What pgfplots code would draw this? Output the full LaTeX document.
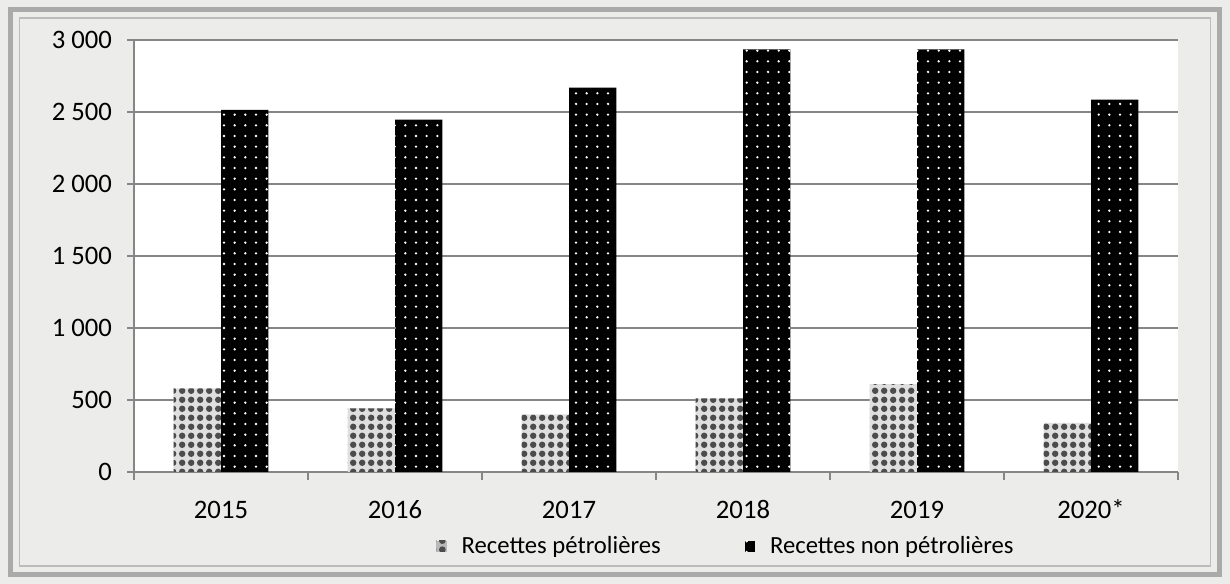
\documentclass[border=0pt]{standalone}
\usepackage{fontspec}
\setmainfont{Carlito}
\usepackage{pgfplots}
\pgfplotsset{compat=1.18}
\usetikzlibrary{patterns.meta}

\definecolor{frameg}{RGB}{160,160,160}
\definecolor{bgtex}{RGB}{236,236,234}
\definecolor{gridg}{RGB}{134,134,134}

\begin{document}
\begin{tikzpicture}
% background card: 1230x584 px at 0.75pt per px; axis box starts at px (134,472)
\fill[bgtex] (-100.5pt,-84pt) rectangle (822pt,354pt);
\draw[frameg!90, line width=4pt] (-92.5pt,-77pt) rectangle (814pt,347pt);
\draw[frameg!70, line width=1.2pt] (-86pt,-70.5pt) rectangle (807.5pt,340.5pt);
\path[use as bounding box] (-100.5pt,-84pt) rectangle (822pt,354pt);
\begin{axis}[
    at={(0,0)}, anchor=south west,
    scale only axis,
    width=783pt, height=324pt,
    ybar=0pt,
    bar width=0.272,
    xmin=-0.5, xmax=5.5,
    ymin=0, ymax=3000,
    xtick={0,1,2,3,4,5},
    xticklabels={2015,2016,2017,2018,2019,2020*},
    minor xtick={-0.5,0.5,1.5,2.5,3.5,4.5,5.5},
    major x tick style={draw=none},
    minor tick length=6pt,
    ytick={0,500,1000,1500,2000,2500,3000},
    major tick length=5pt,
    tick align=outside,
    tick style={gridg, line width=0.8pt},
    ymajorgrids,
    grid style={gridg, line width=0.8pt},
    axis line style={gridg, line width=0.8pt},
    axis x line*=bottom,
    axis y line*=left,
    axis background/.style={fill=white},
    enlarge x limits=false,
    tick label style={font=\fontsize{20pt}{24pt}\selectfont, black},
    /pgf/number format/assume math mode=true,
    /pgf/number format/1000 sep={\ },
    yticklabel style={xshift=-8pt},
    xticklabel style={anchor=base, yshift=-30pt},
    legend style={at={(0.568,-0.172)}, anchor=center, draw=none, fill=none,
        legend columns=2, font=\fontsize{18.5pt}{22pt}\selectfont,
        /tikz/every odd column/.append style={column sep=8pt},
        /tikz/every even column/.append style={column sep=60pt},
        nodes={inner xsep=3pt}},
]
\addplot[draw=none, fill=gray!25,
    postaction={pattern={Dots[distance=6.5pt, radius=2.5pt]}, pattern color=gray!60!black},
    legend image code/.code={\fill[gray!55] (0pt,-4pt) rectangle (8pt,4pt);}]
    coordinates {(0,580) (1,442) (2,400) (3,512) (4,610) (5,341)};
\addplot[draw=none, fill=black,
    postaction={pattern={Dots[distance=8pt, radius=0.95pt]}, pattern color=white},
    legend image code/.code={\fill[black] (0pt,-4pt) rectangle (8pt,4pt);}]
    coordinates {(0,2515) (1,2447) (2,2670) (3,2935) (4,2935) (5,2586)};
\legend{Recettes pétrolières, Recettes non pétrolières}
\end{axis}
\end{tikzpicture}
\end{document}
